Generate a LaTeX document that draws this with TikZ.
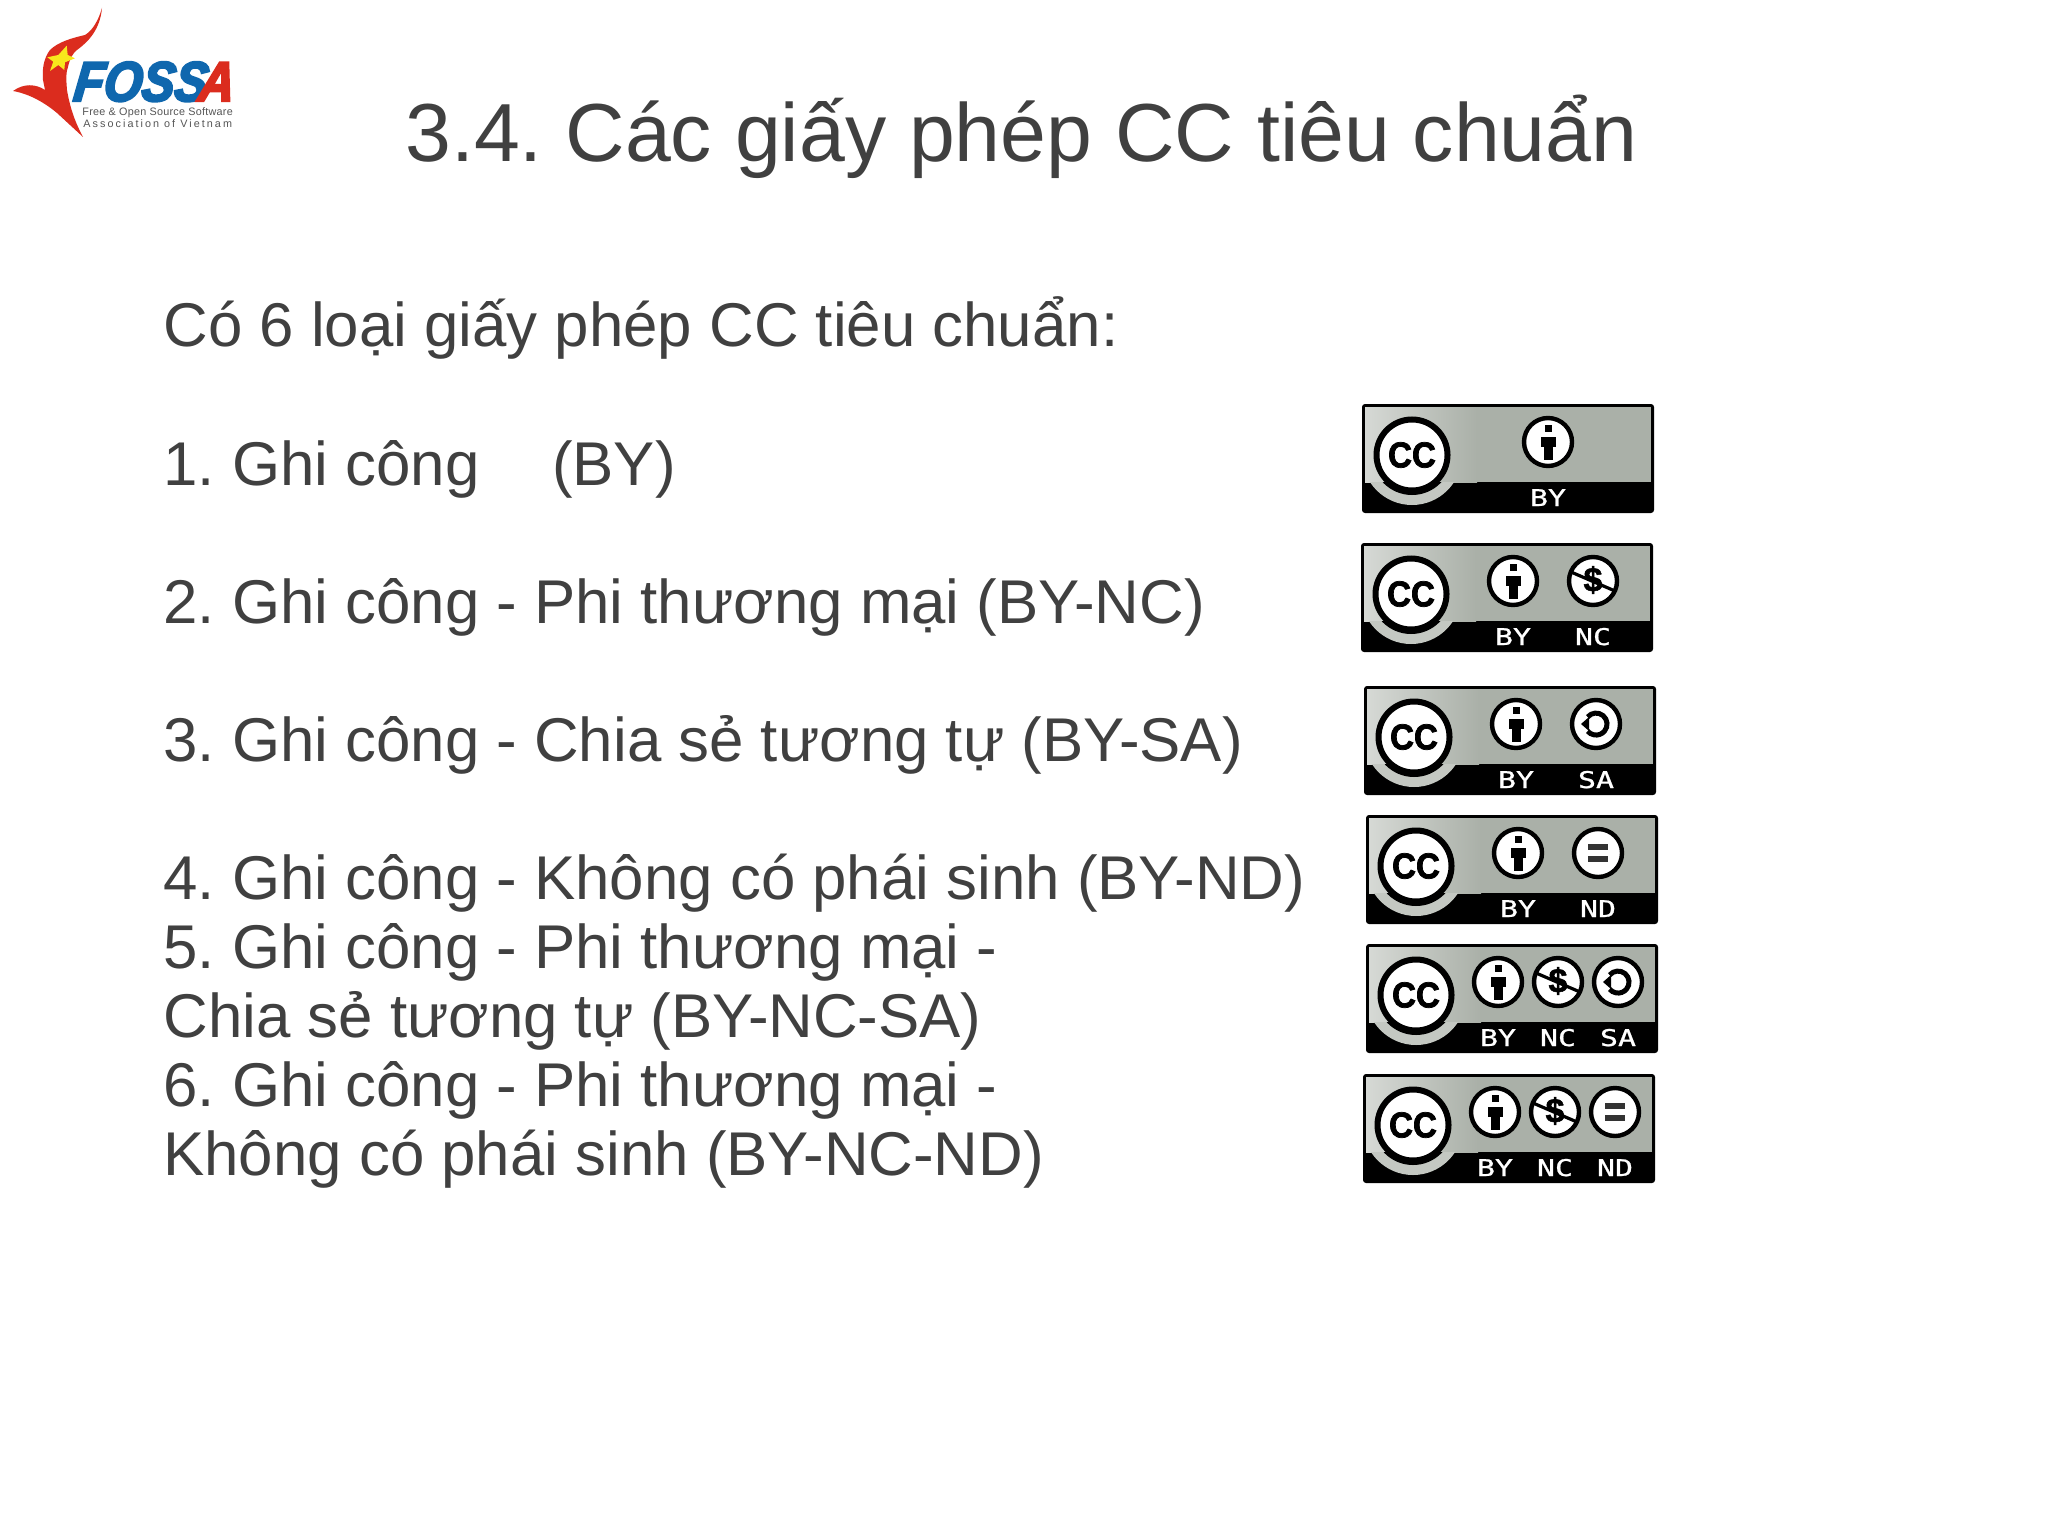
\documentclass[tikz,border=0pt]{standalone}
\usepackage{fontspec}
\setmainfont{Liberation Sans}
\frenchspacing
\newfontfamily\badgefont[FakeStretch=1.3,FakeBold=1]{DejaVu Sans Mono}
\newfontfamily\ccfont[FakeStretch=.92,FakeBold=2]{Liberation Sans Bold}
\newfontfamily\dollarfont[FakeBold=1.5]{Liberation Sans Bold}
\newfontfamily\logofont[FakeStretch=.875,FakeBold=4,FakeSlant=.12]{Liberation Sans Bold Italic}
\newfontfamily\taglinefonta[LetterSpace=2.4]{Liberation Sans}
\newfontfamily\taglinefontb[LetterSpace=19]{Liberation Sans}
\definecolor{slidetext}{HTML}{404040}
\definecolor{badgegray}{HTML}{AAB0A8}
\definecolor{badgelight}{HTML}{D6D9D5}
\definecolor{halo}{HTML}{C4C8C2}
\definecolor{logoblue}{HTML}{0F67AE}
\definecolor{logored}{HTML}{DB2C1E}
\definecolor{logoyellow}{HTML}{F8E71C}
\definecolor{logogray}{HTML}{555555}
\tikzset{
  titletext/.style={anchor=base west,inner sep=0pt,text=slidetext,font=\fontsize{41.2}{48}\selectfont},
  bodytext/.style={anchor=base west,inner sep=0pt,text=slidetext,font=\fontsize{30.9}{36}\selectfont},
  bandlabel/.style={anchor=base,inner sep=0pt,text=white,font=\badgefont\fontsize{11.5}{12}\selectfont},
  ring/.style={fill=white,draw=black,line width=2.2pt},
  logotext/.style={anchor=base west,inner sep=0pt,font=\logofont\fontsize{28}{30}\selectfont},
  taglinea/.style={anchor=base west,inner sep=0pt,text=logogray,font=\taglinefonta\fontsize{5.4}{6}\selectfont},
  taglineb/.style={anchor=base west,inner sep=0pt,text=logogray,font=\taglinefontb\fontsize{5.4}{6}\selectfont},
}
\newcommand{\ccbase}[1]{%
  \fill[black,rounded corners=1.5pt] (0,0) rectangle (292,109);
  \fill[badgegray] (3,3) rectangle (289,78);
  \shade[left color=badgelight,right color=badgegray] (3,3) rectangle (115,78);
  \begin{scope}
    \clip (3,78) rectangle (289,106);
    \fill[halo] (50,51) circle[radius=25pt];
    \fill[black] (50,51) circle[radius=20pt];
  \end{scope}
  \fill[white,draw=black,line width=3pt] (50,51) circle[radius=17.75pt];
  \node[inner sep=0pt,font=\ccfont\fontsize{18}{20}\selectfont] (#1cc) at (50,51) {CC};
}
\newcommand{\iconby}[3]{%
  \draw[ring] (#2,38) circle[radius=12pt];
  \fill[black] (#2-3.5,21) rectangle (#2+3.5,28);
  \fill[black] (#2-7.5,33) rectangle (#2+7.5,43);
  \fill[black] (#2-4.5,43) rectangle (#2+4.5,56);
  \node[bandlabel] (#1) at (#2,#3) {BY};
}
\newcommand{\iconnc}[3]{%
  \draw[ring] (#2,38) circle[radius=12pt];
  \node[inner sep=0pt,font=\dollarfont\fontsize{17}{18}\selectfont] at (#2,37) {\$};
  \draw[black,line width=1.6pt] (#2-22,29) -- (#2+22,48);
  \node[bandlabel] (#1) at (#2,#3) {NC};
}
\newcommand{\iconsa}[3]{%
  \draw[ring] (#2,38) circle[radius=12pt];
  \draw[black,line width=2.5pt] (#2-8.4,31) arc[start angle=140,end angle=-140,radius=5.5pt];
  \fill[black] (#2-15,38) -- (#2-7,31) -- (#2-7,45) -- cycle;
  \node[bandlabel] (#1) at (#2,#3) {SA};
}
\newcommand{\iconnd}[3]{%
  \draw[ring] (#2,38) circle[radius=12pt];
  \fill[black!80] (#2-10,29) rectangle (#2+10,35);
  \fill[black!80] (#2-10,41) rectangle (#2+10,47);
  \node[bandlabel] (#1) at (#2,#3) {ND};
}
\begin{document}
\begin{tikzpicture}[x=.5pt,y=-.5pt]
\useasboundingbox (0,0) rectangle (2048,1535);
\fill[white] (0,0) rectangle (2048,1535);
% logo
\fill[logored] (102,8) .. controls (97,25) and (90,32) .. (85,35)
  .. controls (72,38) and (58,42) .. (50,50)
  .. controls (44,58) and (42,68) .. (43,80)
  -- (45,90)
  .. controls (36,84) and (24,83) .. (13,91)
  .. controls (30,94) and (45,103) .. (57,113)
  -- (83,137)
  .. controls (75,122) and (70,108) .. (67,90)
  .. controls (66,78) and (66,72) .. (68,67)
  .. controls (70,58) and (73,53) .. (77,50)
  .. controls (88,42) and (100,30) .. cycle;
\fill[logoyellow] (66.7,45.7) -- (67.7,55) -- (75,58.3) -- (65,62.3) -- (64.3,70) -- (58.3,65) -- (50,71) -- (53.3,61.7) -- (47.3,57.3) -- (58.3,55) -- cycle;
\node[logotext,text=logoblue] (foss) at (72,101) {FOSS};
\node[logotext,text=logored] (fossa) at (197,101) {A};
\node[taglinea] (tag1) at (82,116) {Free \& Open Source Software};
\node[taglineb] (tag2) at (83,128) {Association of Vietnam};
% text
\node[titletext] (title) at (405,162) {3.4. Các giấy phép CC tiêu chuẩn};
\node[bodytext] (intro) at (163,347) {Có 6 loại giấy phép CC tiêu chuẩn:};
\node[bodytext] (l1) at (163,485) {1. Ghi công\hspace*{1.175em}(BY)};
\node[bodytext] (l2) at (163,623) {2. Ghi công - Phi thương mại (BY-NC)};
\node[bodytext] (l3) at (163,761) {3. Ghi công - Chia sẻ tương tự (BY-SA)};
\node[bodytext] (l4) at (163,899) {4. Ghi công - Không có phái sinh (BY-ND)};
\node[bodytext] (l5a) at (163,968) {5. Ghi công - Phi thương mại -};
\node[bodytext] (l5b) at (163,1037) {Chia sẻ tương tự (BY-NC-SA)};
\node[bodytext] (l6a) at (163,1106) {6. Ghi công - Phi thương mại -};
\node[bodytext] (l6b) at (163,1175) {Không có phái sinh (BY-NC-ND)};
% badges
\begin{scope}[shift={(1362,404)}]
  \ccbase{a}\iconby{aby}{186}{102}
\end{scope}
\begin{scope}[shift={(1361,543)}]
  \ccbase{b}\iconby{bby}{152}{102}\iconnc{bnc}{232}{102}
\end{scope}
\begin{scope}[shift={(1364,686)}]
  \ccbase{c}\iconby{cby}{152}{102}\iconsa{csa}{232}{102}
\end{scope}
\begin{scope}[shift={(1366,815)}]
  \ccbase{d}\iconby{dby}{152}{102}\iconnd{dnd}{232}{102}
\end{scope}
\begin{scope}[shift={(1366,944)}]
  \ccbase{e}\iconby{eby}{132}{102}\iconnc{enc}{192}{102}\iconsa{esa}{252}{102}
\end{scope}
\begin{scope}[shift={(1363,1074)}]
  \ccbase{f}\iconby{fby}{132}{102}\iconnc{fnc}{192}{102}\iconnd{fnd}{252}{102}
\end{scope}
\end{tikzpicture}
\end{document}
